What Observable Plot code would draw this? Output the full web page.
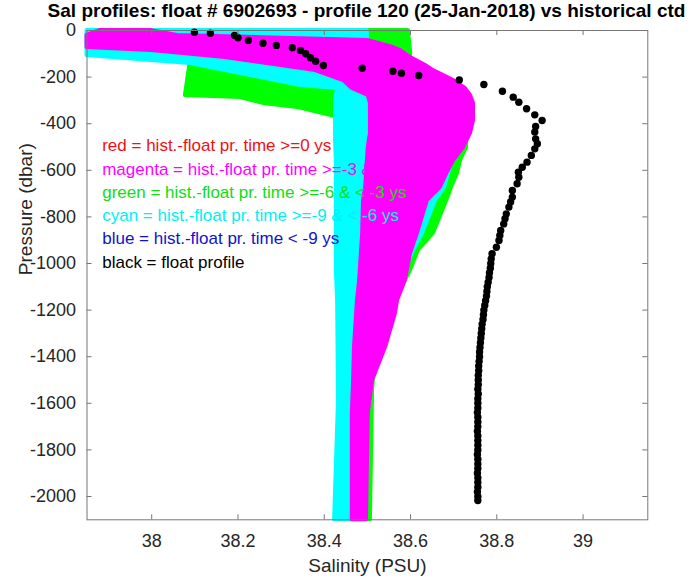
<!DOCTYPE html>
<html><head><meta charset="utf-8">
<script src="https://cdn.jsdelivr.net/npm/d3@7"></script>
<script src="https://cdn.jsdelivr.net/npm/@observablehq/plot@0.6"></script>
<style>
body{margin:0;background:#fff;}
#wrap{position:relative;width:698px;height:582px;overflow:hidden;background:#fff;}
#title{position:absolute;left:366.5px;top:-2px;transform:translateX(-50%);white-space:nowrap;font:bold 19px "Liberation Sans",Arial,Helvetica,sans-serif;line-height:26px;color:#000;}
#chart{position:absolute;left:0;top:24px;}
</style></head><body>
<div id="wrap"><div id="title">Sal profiles: float # 6902693 - profile 120 (25-Jan-2018) vs historical ctd</div><div id="chart"></div></div>
<script>
// ---- tick labels ----
const xTicks = [38, 38.2, 38.4, 38.6, 38.8, 39];
const yTicks = [0, -200, -400, -600, -800, -1000, -1200, -1400, -1600, -1800, -2000];

// ---- legend ----
const legendLabels = [
  "red = hist.-float pr. time >=0 ys",
  "magenta = hist.-float pr. time >=-3 & < 0 ys",
  "green = hist.-float pr. time >=-6 & < -3 ys",
  "cyan = hist.-float pr. time >=-9 & < -6 ys",
  "blue = hist.-float pr. time < -9 ys",
  "black = float profile"
];
const legendColors = ["#ee1111", "#ff00ff", "#11dd11", "#00f0f0", "#1111cc", "#000000"];

// ---- historical ctd envelopes (pressure, min salinity, max salinity) ----
const greenP  = [0, -86, -116, -129, -279, -288, -313, -330, -373, -472, -502, -558, -614, -674, -730, -871, -944, -1030, -1073, -1159, -1373, -1545, -2100];
const greenLo = [38.345, 38.345, 38.299, 38.090, 38.078, 38.206, 38.259, 38.338, 38.433, 38.433, 38.433, 38.433, 38.433, 38.433, 38.433, 38.433, 38.433, 38.433, 38.433, 38.433, 38.433, 38.433, 38.433];
const greenHi = [38.595, 38.600, 38.600, 38.600, 38.727, 38.734, 38.739, 38.739, 38.739, 38.730, 38.730, 38.716, 38.709, 38.695, 38.684, 38.653, 38.618, 38.600, 38.588, 38.553, 38.519, 38.512, 38.507];

const cyanP  = [0, -30, -107, -142, -193, -236, -249, -300, -472, -558, -674, -730, -871, -944, -1030, -1159, -1588, -2100];
const cyanLo = [37.85, 37.85, 37.85, 38.090, 38.229, 38.345, 38.431, 38.426, 38.426, 38.428, 38.428, 38.428, 38.428, 38.428, 38.428, 38.431, 38.433, 38.424];
const cyanHi = [38.500, 38.500, 38.489, 38.489, 38.496, 38.507, 38.512, 38.530, 38.704, 38.697, 38.679, 38.658, 38.628, 38.607, 38.588, 38.553, 38.489, 38.484];

const magentaP  = [0, -21, -43, -73, -86, -116, -150, -172, -215, -249, -279, -313, -386, -442, -502, -558, -614, -674, -730, -871, -957, -1073, -1159, -1215, -1361, -1502, -1644, -2100];
const magentaLo = [37.881, 37.85, 37.85, 37.85, 38.000, 38.170, 38.300, 38.380, 38.445, 38.465, 38.502, 38.507, 38.507, 38.507, 38.502, 38.500, 38.498, 38.496, 38.491, 38.489, 38.486, 38.482, 38.477, 38.475, 38.470, 38.468, 38.465, 38.465];
const magentaHi = [37.997, 38.060, 38.500, 38.560, 38.577, 38.600, 38.635, 38.653, 38.700, 38.727, 38.739, 38.746, 38.746, 38.739, 38.723, 38.700, 38.684, 38.669, 38.639, 38.616, 38.600, 38.588, 38.570, 38.565, 38.542, 38.512, 38.502, 38.498];

// ---- float profile ----
const floatPres = [-7, -12, -21, -31, -43, -55, -64, -74, -86, -100, -117, -132, -150, -162, -175, -183, -193, -212, -232, -261, -286, -308, -336, -362, -386, -412, -436, -465, -486, -508, -536, -565, -587, -608, -630, -658, -687, -715, -736, -758, -787, -808, -830, -858, -880, -901, -930, -958, -980, -1000, -1020, -1040, -1060, -1080, -1100, -1120, -1140, -1160, -1180, -1200, -1220, -1240, -1260, -1280, -1300, -1320, -1340, -1360, -1380, -1400, -1420, -1440, -1460, -1480, -1500, -1520, -1540, -1560, -1580, -1600, -1620, -1640, -1660, -1680, -1700, -1720, -1740, -1760, -1780, -1800, -1820, -1840, -1860, -1880, -1900, -1920, -1940, -1960, -1980, -2000, -2017];
const floatSal  = [38.099, 38.136, 38.192, 38.200, 38.224, 38.258, 38.289, 38.326, 38.345, 38.357, 38.368, 38.380, 38.398, 38.488, 38.559, 38.579, 38.619, 38.713, 38.770, 38.813, 38.838, 38.851, 38.869, 38.888, 38.905, 38.890, 38.888, 38.890, 38.894, 38.888, 38.880, 38.870, 38.859, 38.850, 38.851, 38.847, 38.836, 38.836, 38.832, 38.828, 38.822, 38.819, 38.816, 38.809, 38.807, 38.805, 38.799, 38.789, 38.787, 38.786, 38.785, 38.783, 38.782, 38.780, 38.778, 38.777, 38.776, 38.774, 38.772, 38.770, 38.769, 38.768, 38.766, 38.765, 38.764, 38.763, 38.762, 38.761, 38.760, 38.760, 38.759, 38.758, 38.758, 38.757, 38.757, 38.757, 38.756, 38.757, 38.756, 38.756, 38.756, 38.755, 38.756, 38.756, 38.756, 38.755, 38.756, 38.756, 38.756, 38.756, 38.755, 38.756, 38.756, 38.756, 38.755, 38.756, 38.756, 38.756, 38.755, 38.756, 38.756];

// ---- tables built from arrays ----
const env = (P, L, H) => P.map((p, i) => ({p, lo: L[i], hi: H[i]}));
const green = env(greenP, greenLo, greenHi);
const cyan = env(cyanP, cyanLo, cyanHi);
const magenta = env(magentaP, magentaLo, magentaHi);
const floatData = floatPres.map((p, i) => ({p, s: floatSal[i]}));

const fontFamily = '"Liberation Sans", Arial, Helvetica, sans-serif';
const W = 698, H = 558, mL = 86.5, mR = 50.7, mT = 6, mB = 62.7;
const plotW = W - mL - mR, plotH = H - mT - mB;
const axisCol = "#777777", textCol = "#262626";

const envMark = (data, c) => Plot.areaX(data, {y: "p", x1: "lo", x2: "hi", fill: c, stroke: c, strokeWidth: 4, strokeLinejoin: "round"});

const chart = Plot.plot({
  width: W, height: H,
  marginLeft: mL, marginRight: mR, marginTop: mT, marginBottom: mB,
  x: {domain: [37.85, 39.15]},
  y: {domain: [-2100, 0]},
  style: {fontFamily, background: "#fff", overflow: "visible"},
  marks: [
    envMark(green, "#00ff00"),
    envMark(cyan, "#00ffff"),
    envMark(magenta, "#ff00ff"),
    Plot.dot(floatData, {x: "s", y: "p", r: 3.7, fill: "#000", stroke: "none"}),
    ...legendLabels.map((t, i) => Plot.text([t], {
      text: d => d, frameAnchor: "top-left", dx: 15.2, dy: 115.3 + i * 23.3,
      textAnchor: "start", lineAnchor: "middle", fontSize: 17, fill: legendColors[i]
    })),
    Plot.frame({stroke: axisCol, strokeWidth: 1}),
    Plot.tickX(xTicks, {x: d => d, insetTop: plotH - 5, stroke: axisCol}),
    Plot.tickX(xTicks, {x: d => d, insetBottom: plotH - 5, stroke: axisCol}),
    Plot.tickY(yTicks, {y: d => d, insetRight: plotW - 5, stroke: axisCol}),
    Plot.tickY(yTicks, {y: d => d, insetLeft: plotW - 5, stroke: axisCol}),
    Plot.axisX({ticks: xTicks, anchor: "bottom", tickSize: 0, tickPadding: 14, fontSize: 18, fill: textCol, tickFormat: d => String(d), label: null}),
    Plot.axisY({ticks: yTicks, anchor: "left", tickSize: 0, tickPadding: 11, fontSize: 18, fill: textCol, tickFormat: d => String(d), label: null}),
    Plot.text(["Salinity (PSU)"], {text: d => d, frameAnchor: "bottom", dy: 46, lineAnchor: "middle", fontSize: 19, fill: textCol}),
    Plot.text(["Pressure (dbar)"], {text: d => d, frameAnchor: "left", dx: -61.5, rotate: -90, lineAnchor: "middle", fontSize: 19, fill: textCol})
  ]
});
document.getElementById("chart").appendChild(chart);
</script>
</body></html>
